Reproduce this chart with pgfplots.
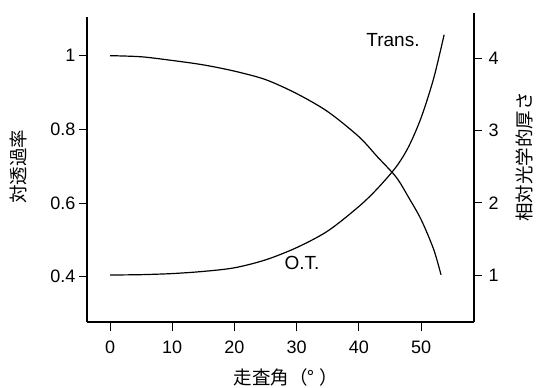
\documentclass[border=0pt]{standalone}
\usepackage{fontspec}
\setmainfont{Liberation Sans}
\newfontfamily\jp{Noto Sans CJK JP}
\usepackage{pgfplots}
\pgfplotsset{compat=1.18}
\pgfplotstableread{
x t
0 1.000
5 0.997
10 0.987
15 0.975
20 0.958
25 0.935
30 0.897
35 0.848
40 0.780
43 0.725
46 0.670
48 0.615
50 0.555
52 0.475
53.2 0.405
}\trans
\pgfplotstableread{
x o
0 1.00
5 1.005
10 1.02
15 1.05
20 1.10
25 1.21
30 1.38
35 1.61
40 1.95
43 2.20
46 2.50
48 2.78
50 3.18
52 3.72
53.7 4.33
}\ot
\begin{document}
\begin{tikzpicture}[x=1pt,y=1pt]
\useasboundingbox (0,0) rectangle (536,388);
\begin{axis}[
  at={(87pt,66pt)}, anchor=south west, scale only axis,
  width=387pt, height=305pt,
  xmin=-3.7, xmax=58.5, ymin=0.277, ymax=1.105,
  axis x line*=bottom, axis y line*=left,
  axis line style={line width=1.1pt},
  xtick={0,10,...,50}, ytick={0.4,0.6,0.8,1},
  yticklabels={0.4,0.6,0.8,1},
  tick align=outside, major tick length=8pt,
  x tick style={yshift=-1.5pt},
  every tick/.style={line width=1pt, black},
  tick label style={font=\fontsize{18}{18}\selectfont},
  xticklabel style={yshift=-7pt},
  /pgf/number format/assume math mode=true,
  clip=false,
]
\addplot[black, line width=1.2pt, smooth, tension=0.5] table[x=x,y=t] {\trans};
\end{axis}
\begin{axis}[
  at={(87pt,66pt)}, anchor=south west, scale only axis,
  width=387pt, height=309pt,
  xmin=-3.7, xmax=58.5, ymin=0.349, ymax=4.631,
  axis x line=none, axis y line*=right,
  axis line style={line width=1.1pt},
  ytick={1,2,3,4},
  tick align=outside, major tick length=8pt,
  every tick/.style={line width=1pt, black},
  tick label style={font=\fontsize{18}{18}\selectfont},
  yticklabel style={xshift=3pt},
  /pgf/number format/assume math mode=true,
  clip=false,
]
\addplot[black, line width=1.2pt, smooth, tension=0.5] table[x=x,y=o] {\ot};
\end{axis}
\node[font=\fontsize{19}{19}\selectfont] at (393,348) {Trans.};
\node[font=\fontsize{19}{19}\selectfont] at (302,125) {O.T.};
\node[font=\jp\fontsize{18.5}{18.5}\selectfont, rotate=90] at (18,221) {対透過率};
\node[font=\jp\fontsize{18.5}{18.5}\selectfont, rotate=90] at (524,231) {相対光学的厚さ};
\node[font=\jp\fontsize{18.5}{18.5}\selectfont] at (286,11) {走査角（°\hspace{0.3em}）};
\end{tikzpicture}
\end{document}
